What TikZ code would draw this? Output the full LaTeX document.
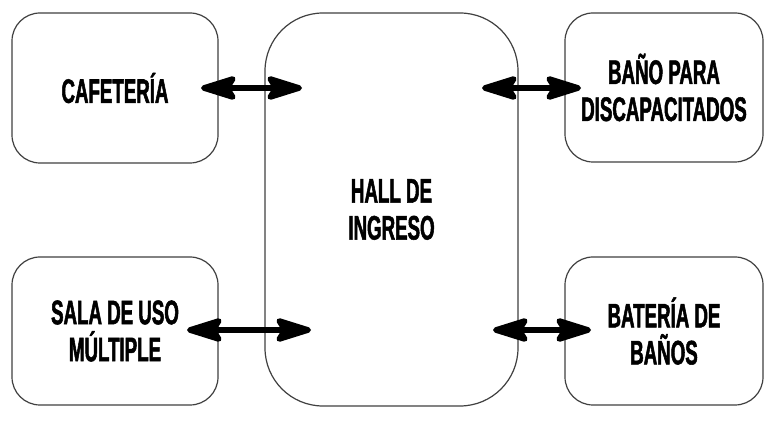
\documentclass[tikz,border=0pt]{standalone}
\usepackage{fontspec}
\setmainfont{Liberation Sans}[FakeStretch=0.55,FakeBold=1.5]
\usetikzlibrary{arrows.meta}
\begin{document}
\begin{tikzpicture}[x=1pt,y=-1pt,
  room/.style={draw=black!75,line width=1.2pt,rounded corners=28pt,fill=white,
    align=center,font=\fontsize{34}{37}\selectfont\bfseries,inner sep=0pt},
  tip/.style={Stealth[length=44pt,width=27pt,inset=8pt,round]},
  link/.style={line width=5.5pt,{Stealth[length=44pt,width=27pt,inset=8pt,round]}-{Stealth[length=44pt,width=27pt,inset=8pt,round]}}]
\useasboundingbox (0,0) rectangle (774,427);
\node[room,minimum width=253pt,minimum height=393pt,rounded corners=58pt] (hall) at (391.5,209.5) {HALL DE\\INGRESO};
\node[room,minimum width=206pt,minimum height=150pt] (caf) at (115,88) {CAFETERÍA};
\node[room,minimum width=198pt,minimum height=149pt] (bano) at (664,87.5) {BAÑO PARA\\DISCAPACITADOS};
\node[room,minimum width=206pt,minimum height=148pt] (sala) at (115,331) {SALA DE USO\\MÚLTIPLE};
\node[room,minimum width=198pt,minimum height=148pt] (bat) at (664,331) {BATERÍA DE\\BAÑOS};
\coordinate (c1) at (201,88);
\coordinate (h1) at (302,88);
\coordinate (h2) at (482,88);
\coordinate (b2) at (581,88);
\coordinate (s3) at (187,330);
\coordinate (h3) at (311,330);
\coordinate (h4) at (493,330);
\coordinate (t4) at (591,330);
\draw[link] (c1) -- (h1);
\draw[link] (h2) -- (b2);
\draw[link] (s3) -- (h3);
\draw[link] (h4) -- (t4);
\end{tikzpicture}
\end{document}
